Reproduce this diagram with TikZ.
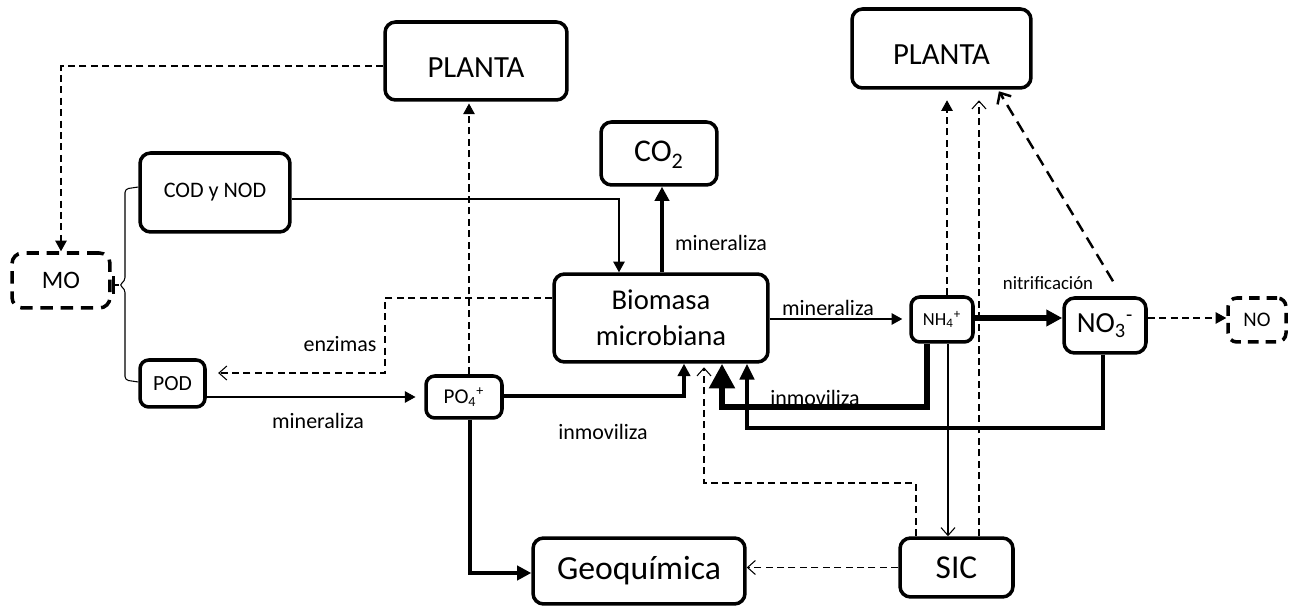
\documentclass[tikz,border=0pt]{standalone}
\usepackage{fontspec}
\setmainfont{Carlito}
\usetikzlibrary{arrows.meta,calc}
\newcommand\fsz[1]{\fontsize{#1pt}{1.25\dimexpr#1pt\relax}\selectfont}
\newcommand\lowr[2]{\raisebox{-#1}[\height][\depth]{#2}}
\begin{document}
\begin{tikzpicture}[x=0.02cm,y=-0.02cm,
  box/.style={draw, line width=2pt, rounded corners=6pt, inner sep=0pt},
  dbox/.style={box, dash pattern=on 7pt off 4.5pt},
  sz/.style 2 args={minimum width=#1*0.569pt, minimum height=#2*0.569pt},
  ln/.style={line width=0.6pt},
  dsh/.style={line width=0.6pt, dash pattern=on 4pt off 2.5pt},
  fa/.style={-{Triangle[length=6pt,width=6.5pt]}},
  oa/.style={-{Straight Barb[length=4.5pt,width=8pt]}},
  lbl/.style={font=\fsz{12.5}, inner sep=0pt}]
\useasboundingbox (0,0) rectangle (1308,607);

% nodes
\node[box,sz={182}{78},font=\fsz{17.5}] (plL) at (476,61) {\lowr{4pt}{PLANTA}\hspace{7pt}};
\node[box,sz={116}{63},font=\fsz{18}] (co2) at (659,153.5) {CO\lowr{1.5pt}{\textsubscript{2}}};
\node[box,sz={150}{79},font=\fsz{12.6}] (cod) at (215,192.5) {COD y NOD\hspace{10pt}};
\node[dbox,sz={98}{55},font=\fsz{14.3}] (mo) at (61,280.5) {MO};
\node[box,sz={65}{47},font=\fsz{12.3},rounded corners=5pt] (pod) at (172.5,383.5) {POD};
\node[box,sz={214}{88},align=center,font=\fontsize{16.3pt}{20.4pt}\selectfont] (bio) at (661,318) {Biomasa\\microbiana};
\node[box,sz={76}{42},font=\fsz{12},rounded corners=5pt] (po4) at (464,397) {PO\textsubscript{4}\textsuperscript{+}};
\node[box,sz={62}{45},font=\fsz{10.5},rounded corners=5pt] (nh4) at (942,319.5) {NH\textsubscript{4}\textsuperscript{+}};
\node[box,sz={82}{55},font=\fsz{16.6}] (no3) at (1105,325.5) {NO\textsubscript{3}\textsuperscript{-}};
\node[dbox,sz={58}{44},font=\fsz{11.8},dash pattern=on 6pt off 4pt,rounded corners=5pt] (no) at (1257,320) {NO};
\node[box,sz={179}{79},font=\fsz{17.5}] (plR) at (941.5,48.5) {\lowr{3.5pt}{PLANTA}\hspace{12pt}};
\node[box,sz={212}{66},font=\fsz{19.2}] (geo) at (639,571) {Geoquímica};
\node[box,sz={113}{59},font=\fsz{19}] (sic) at (956.5,567.5) {SIC};

% labels
\node[lbl] (l1) at (721,243) {mineraliza};
\node[lbl] (l2) at (340,344) {enzimas};
\node[lbl] (l3) at (318,421) {mineraliza};
\node[lbl] (l4) at (603,432) {inmoviliza};
\node[lbl] (l5) at (815,398) {inmoviliza};
\node[lbl] (l6) at (828,308) {mineraliza};
\node[lbl,font=\fsz{10.7}] (l7) at (1048,283) {nitrificación};

% connectors
\draw[dsh,fa] (plL.west |- 0,66) -| (mo.north);
\draw[ln,fa] (cod.east |- 0,199) -| (bio.north -| 619,0);
\draw[line width=2.3pt,-{Triangle[length=8pt,width=8pt]}] (bio.north -| 662,0) -- (co2.south -| 662,0);
\draw[dsh,oa,shorten >=6.5pt] (bio.west |- 0,298) -| (385,373) -- (pod.east |- 0,373);
\draw[ln,fa,shorten >=5pt] (pod.east |- 0,397) -- (po4.west |- 0,397);
\draw[dsh,fa,shorten >=1pt] (po4.north -| 469,0) -- (plL.south -| 469,0);
\draw[line width=2.3pt,-{Triangle[length=7pt,width=7pt]}] (po4.east |- 0,396) -| (bio.south -| 684,0);
\draw[line width=2.6pt,-{Triangle[length=8pt,width=8pt]}] (po4.south -| 470,0) |- (geo.west |- 0,573);
\draw[ln,fa,shorten >=4pt] (bio.east |- 0,319) -- (nh4.west |- 0,319);
\draw[line width=3.4pt,-{Triangle[length=9pt,width=9pt]}] (nh4.east |- 0,318) -- (no3.west |- 0,318);
\draw[dsh,fa] (no3.east |- 0,318) -- (no.west |- 0,318);
\draw[dsh,fa,shorten >=6pt] (nh4.north -| 947,0) -- (plR.south -| 947,0);
\draw[dsh,oa,shorten >=6pt] (sic.north -| 979,0) -- (plR.south -| 979,0);
\draw[line width=1.4pt,dash pattern=on 7pt off 4pt,-{Straight Barb[length=5pt,width=9pt]},shorten >=1pt]
  ([xshift=8*0.569pt,yshift=15*0.569pt]no3.north) -- (plR.south -| 998,0);
\draw[ln,oa] (nh4.south -| 948,0) -- (sic.north -| 948,0);
\draw[dsh,oa,shorten >=2pt] (sic.north -| 916,0) |- (704,483) -- (bio.south -| 704,0);
\draw[dsh,oa] (sic.west) -- (geo.east |- sic.west);
\draw[line width=3.5pt,-{Triangle[length=14pt,width=14pt]}] (nh4.south -| 927,0) |- (722,407) -- (bio.south -| 722,0);
\draw[line width=2.6pt,-{Triangle[length=9pt,width=8pt]}] (no3.south -| 1103,0) |- (747,428) -- (bio.south -| 747,0);

% brace
\draw[ln,rounded corners=2pt] (cod.west |- 0,187) -- (125,189) -- (125,281) -- (119,285) -- (125,289) -- (125,380) -- (pod.west |- 0,382);
\coordinate (bt) at (119,285);
\draw[ln,-{Bar[width=10pt,line width=1.8pt]}] (bt) -- (mo.east |- bt);
\end{tikzpicture}
\end{document}
